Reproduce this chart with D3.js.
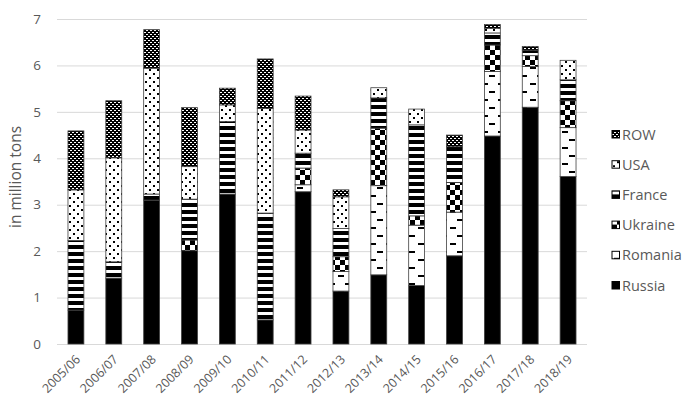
<!DOCTYPE html>
<html><head><meta charset="utf-8">
<script src="https://cdn.jsdelivr.net/npm/d3@7/dist/d3.min.js"></script>
<style>body{margin:0;background:#fff}svg{display:block}text{font-family:"Open Sans",sans-serif}</style>
</head><body>
<script>
const categories = ["2005/06","2006/07","2007/08","2008/09","2009/10","2010/11","2011/12","2012/13","2013/14","2014/15","2015/16","2016/17","2017/18","2018/19"];
const russia  = [0.73,1.42,3.10,2.01,3.23,0.52,3.28,1.14,1.49,1.26,1.90,4.48,5.10,3.61];
const romania = [0,0,0,0,0,0,0.15,0.42,1.92,1.30,0.94,1.39,0.88,1.05];
const ukraine = [0,0,0,0.23,0,0,0.36,0.32,1.24,0.20,0.64,0.57,0.23,0.58];
const france  = [1.50,0.35,0.13,0.88,1.56,2.30,0.32,0.61,0.65,1.96,0.77,0.26,0.12,0.45];
const usa     = [1.09,2.24,2.71,0.70,0.36,2.25,0.50,0.68,0.22,0.34,0,0.10,0,0.42];
const row     = [1.27,1.23,0.83,1.27,0.36,1.07,0.73,0.15,0,0,0.25,0.08,0.08,0];
const seriesNames = ["Russia","Romania","Ukraine","France","USA","ROW"];
const yTicks = [0,1,2,3,4,5,6,7];
const yLabel = "in million tons";

const W=690,H=405;
const svg=d3.select("body").append("svg").attr("width",W).attr("height",H);
const defs=svg.append("defs");
function pat(id,w,h,bg,rects){
  const p=defs.append("pattern").attr("id",id).attr("patternUnits","userSpaceOnUse").attr("width",w).attr("height",h);
  p.append("rect").attr("width",w).attr("height",h).attr("fill",bg);
  rects.forEach(r=>p.append("rect").attr("x",r[0]).attr("y",r[1]).attr("width",r[2]).attr("height",r[3]).attr("fill",r[4]||"#000"));
}
pat("p-romania",16,16,"#fff",[[2,3,6,2],[9,11,6,2]]);
pat("p-ukraine",10,10,"#fff",[[0,0,5,5],[5,5,5,5]]);
pat("p-france",7,7,"#fff",[[0,0,7,4]]);
pat("p-usa",8,8,"#fff",[[1,1,2,2],[5,5,2,2]]);
pat("p-row",4,4,"#000",[[0,0,2,1,"#fff"],[2,2,2,1,"#fff"]]);
const fills={Russia:"#000",Romania:"url(#p-romania)",Ukraine:"url(#p-ukraine)",France:"url(#p-france)",USA:"url(#p-usa)",ROW:"url(#p-row)"};

const x=d3.scaleBand().domain(categories).range([57,587]).paddingInner(0.58).paddingOuter(0.29);
const y=d3.scaleLinear().domain([0,7]).range([344,19]);

svg.append("g").selectAll("line").data(yTicks).join("line")
  .attr("x1",57).attr("x2",587).attr("y1",d=>y(d)+0.5).attr("y2",d=>y(d)+0.5)
  .attr("stroke","#d9d9d9").attr("stroke-width",1);
svg.append("g").selectAll("text").data(yTicks).join("text")
  .attr("x",41).attr("y",d=>y(d)).attr("dy","0.35em").attr("text-anchor","end")
  .attr("font-size",13.5).attr("fill","#595959").text(d=>d);
svg.append("text").attr("transform","translate(21,177) rotate(-90)").attr("text-anchor","middle")
  .attr("font-size",15.5).attr("fill","#595959").text(yLabel);

const table=categories.map((c,i)=>({cat:c,Russia:russia[i],Romania:romania[i],Ukraine:ukraine[i],France:france[i],USA:usa[i],ROW:row[i]}));
const stack=d3.stack().keys(seriesNames)(table);
svg.append("g").selectAll("g").data(stack).join("g").attr("fill",d=>fills[d.key])
  .selectAll("rect").data(d=>d.filter(s=>s[1]-s[0]>0)).join("rect")
  .attr("x",d=>x(d.data.cat)).attr("width",x.bandwidth())
  .attr("y",d=>y(d[1])).attr("height",d=>y(d[0])-y(d[1]))
  .attr("stroke","#404040").attr("stroke-width",0.8);

svg.append("g").selectAll("text").data(categories).join("text")
  .attr("transform",d=>`translate(${x(d)+x.bandwidth()/2+2},357) rotate(-45)`)
  .attr("text-anchor","end").attr("dy","0.35em").attr("font-size",12.5).attr("fill","#595959").text(d=>d);

const leg=[...seriesNames].reverse();
const lg=svg.append("g").selectAll("g").data(leg).join("g")
  .attr("transform",(d,i)=>`translate(612,${134+i*30.2})`);
lg.append("rect").attr("x",0).attr("y",-3.5).attr("width",7.5).attr("height",7.5)
  .attr("fill",d=>fills[d]).attr("stroke","#000").attr("stroke-width",1);
lg.append("text").attr("x",10).attr("y",0.5).attr("dy","0.35em").attr("font-size",14.5).attr("fill","#595959").text(d=>d);
</script>
</body></html>
